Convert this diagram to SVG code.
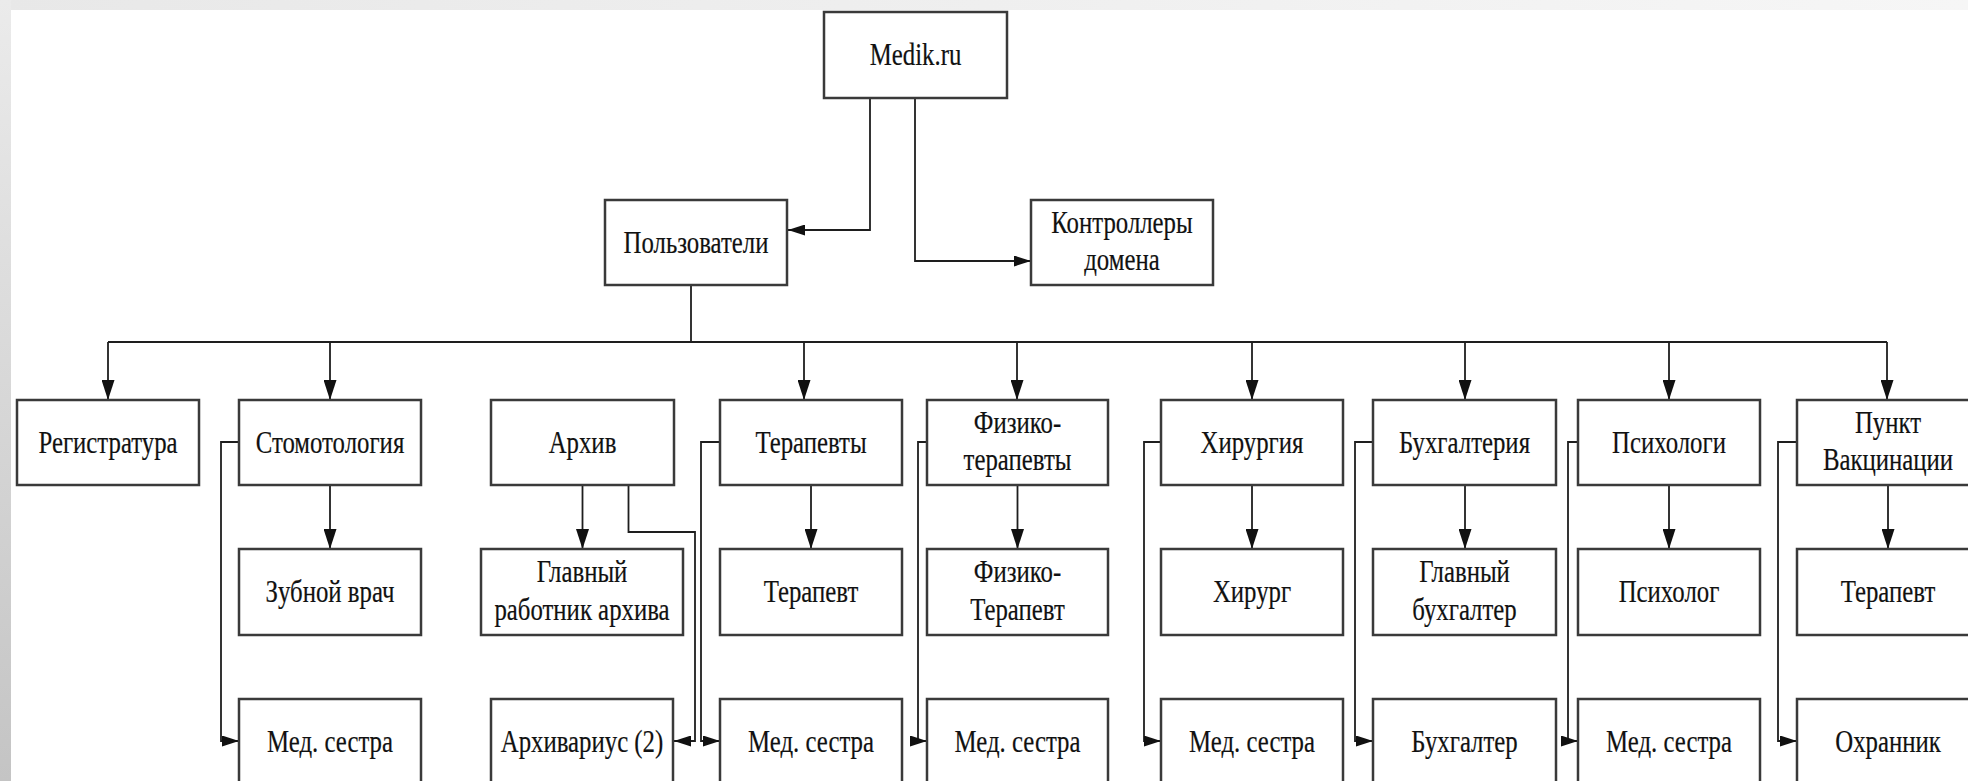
<svg xmlns="http://www.w3.org/2000/svg" width="1968" height="781" viewBox="0 0 1968 781">
<defs>
<linearGradient id="lg" x1="0" y1="0" x2="0" y2="1">
<stop offset="0" stop-color="#ebebeb"/>
<stop offset="1" stop-color="#c4c4c4"/>
</linearGradient>
<linearGradient id="tg" x1="0" y1="0" x2="1" y2="0">
<stop offset="0" stop-color="#e8e8e8"/>
<stop offset="1" stop-color="#f6f6f6"/>
</linearGradient>
<marker id="ah" viewBox="0 0 17 11" refX="17" refY="5.5" markerWidth="17" markerHeight="11" markerUnits="userSpaceOnUse" orient="auto">
<path d="M0,0 L17,5.5 L0,11 z" fill="#111"/>
</marker>
<marker id="av" viewBox="0 0 20 13" refX="20" refY="6.5" markerWidth="20" markerHeight="13" markerUnits="userSpaceOnUse" orient="auto">
<path d="M0,0 L20,6.5 L0,13 z" fill="#111"/>
</marker>
<style>
.b{fill:#fff;stroke:#3a3a3a;stroke-width:2.5}
.t{font-family:'Liberation Serif','Times New Roman',serif;font-size:31px;fill:#111;stroke:#111;stroke-width:0.2;text-anchor:middle}
.c{fill:none;stroke:#1e1e1e;stroke-width:1.8}
.a{marker-end:url(#ah)}
.v{marker-end:url(#av)}
</style>
</defs>
<rect x="0" y="0" width="1968" height="781" fill="#fff"/>
<rect x="0" y="0" width="1968" height="10" fill="url(#tg)"/>
<rect x="0" y="0" width="11" height="781" fill="url(#lg)"/>

<g id="connectors">
<path class="c a" d="M870,98 V230 H788"/>
<path class="c a" d="M915,98 V261 H1031"/>
<path class="c" d="M691,285 V342"/>
<path class="c" d="M108,342 H1887"/>
<path class="c v" d="M108,342 V400"/>
<path class="c v" d="M330,342 V400"/>
<path class="c v" d="M804,342 V400"/>
<path class="c v" d="M1017,342 V400"/>
<path class="c v" d="M1252,342 V400"/>
<path class="c v" d="M1465,342 V400"/>
<path class="c v" d="M1669,342 V400"/>
<path class="c v" d="M1887,342 V400"/>
<path class="c v" d="M330,485 V549"/>
<path class="c v" d="M582.5,485 V549"/>
<path class="c v" d="M811,485 V549"/>
<path class="c v" d="M1017.5,485 V549"/>
<path class="c v" d="M1252,485 V549"/>
<path class="c v" d="M1465,485 V549"/>
<path class="c v" d="M1669,485 V549"/>
<path class="c v" d="M1888,485 V549"/>
<path class="c a" d="M239,442 H221 V741 H239"/>
<path class="c a" d="M628.5,485 V532 H695 V741 H674"/>
<path class="c a" d="M720,442 H701 V741 H720"/>
<path class="c a" d="M927,442 H918 V741 H927"/>
<path class="c a" d="M1161,442 H1144 V741 H1161"/>
<path class="c a" d="M1373,442 H1355 V741 H1373"/>
<path class="c a" d="M1578,442 H1568 V741 H1578"/>
<path class="c a" d="M1797,442 H1778 V741 H1797"/>
</g>

<g id="n-medik"><rect class="b" x="824" y="12" width="183" height="86"/><text class="t" transform="translate(915.5,65) scale(0.8,1)">Medik.ru</text></g>
<g id="n-users"><rect class="b" x="605" y="200" width="182" height="85"/><text class="t" transform="translate(696,252.5) scale(0.8,1)">Пользователи</text></g>
<g id="n-dc"><rect class="b" x="1031" y="200" width="182" height="85"/><text class="t" transform="translate(1122,232.5) scale(0.8,1)"><tspan x="0" y="0">Контроллеры</tspan><tspan x="0" y="38">домена</tspan></text></g>

<g id="n-reg"><rect class="b" x="17" y="400" width="182" height="85"/><text class="t" transform="translate(108,452.5) scale(0.8,1)">Регистратура</text></g>
<g id="n-stom"><rect class="b" x="239" y="400" width="182" height="85"/><text class="t" transform="translate(330,452.5) scale(0.8,1)">Стомотология</text></g>
<g id="n-arch"><rect class="b" x="491" y="400" width="183" height="85"/><text class="t" transform="translate(582.5,452.5) scale(0.8,1)">Архив</text></g>
<g id="n-ter"><rect class="b" x="720" y="400" width="182" height="85"/><text class="t" transform="translate(811,452.5) scale(0.8,1)">Терапевты</text></g>
<g id="n-phys"><rect class="b" x="927" y="400" width="181" height="85"/><text class="t" transform="translate(1017.5,432.5) scale(0.8,1)"><tspan x="0" y="0">Физико-</tspan><tspan x="0" y="38">терапевты</tspan></text></g>
<g id="n-surg"><rect class="b" x="1161" y="400" width="182" height="85"/><text class="t" transform="translate(1252,452.5) scale(0.8,1)">Хирургия</text></g>
<g id="n-acc"><rect class="b" x="1373" y="400" width="183" height="85"/><text class="t" transform="translate(1464.5,452.5) scale(0.8,1)">Бухгалтерия</text></g>
<g id="n-psy"><rect class="b" x="1578" y="400" width="182" height="85"/><text class="t" transform="translate(1669,452.5) scale(0.8,1)">Психологи</text></g>
<g id="n-vac"><rect class="b" x="1797" y="400" width="182" height="85"/><text class="t" transform="translate(1888,432.5) scale(0.8,1)"><tspan x="0" y="0">Пункт</tspan><tspan x="0" y="38">Вакцинации</tspan></text></g>

<g id="n-dent"><rect class="b" x="239" y="549" width="182" height="86"/><text class="t" transform="translate(330,602) scale(0.8,1)">Зубной врач</text></g>
<g id="n-archhead"><rect class="b" x="481" y="549" width="202" height="86"/><text class="t" transform="translate(582,582) scale(0.8,1)"><tspan x="0" y="0">Главный</tspan><tspan x="0" y="38">работник архива</tspan></text></g>
<g id="n-ter1"><rect class="b" x="720" y="549" width="182" height="86"/><text class="t" transform="translate(811,602) scale(0.8,1)">Терапевт</text></g>
<g id="n-phys1"><rect class="b" x="927" y="549" width="181" height="86"/><text class="t" transform="translate(1017.5,582) scale(0.8,1)"><tspan x="0" y="0">Физико-</tspan><tspan x="0" y="38">Терапевт</tspan></text></g>
<g id="n-surg1"><rect class="b" x="1161" y="549" width="182" height="86"/><text class="t" transform="translate(1252,602) scale(0.8,1)">Хирург</text></g>
<g id="n-acchead"><rect class="b" x="1373" y="549" width="183" height="86"/><text class="t" transform="translate(1464.5,582) scale(0.8,1)"><tspan x="0" y="0">Главный</tspan><tspan x="0" y="38">бухгалтер</tspan></text></g>
<g id="n-psy1"><rect class="b" x="1578" y="549" width="182" height="86"/><text class="t" transform="translate(1669,602) scale(0.8,1)">Психолог</text></g>
<g id="n-vac1"><rect class="b" x="1797" y="549" width="182" height="86"/><text class="t" transform="translate(1888,602) scale(0.8,1)">Терапевт</text></g>

<g id="n-nurse1"><rect class="b" x="239" y="699" width="182" height="86"/><text class="t" transform="translate(330,751.5) scale(0.8,1)">Мед. сестра</text></g>
<g id="n-archivist"><rect class="b" x="491" y="699" width="182" height="86"/><text class="t" transform="translate(582,751.5) scale(0.8,1)">Архивариус (2)</text></g>
<g id="n-nurse2"><rect class="b" x="720" y="699" width="182" height="86"/><text class="t" transform="translate(811,751.5) scale(0.8,1)">Мед. сестра</text></g>
<g id="n-nurse3"><rect class="b" x="927" y="699" width="181" height="86"/><text class="t" transform="translate(1017.5,751.5) scale(0.8,1)">Мед. сестра</text></g>
<g id="n-nurse4"><rect class="b" x="1161" y="699" width="182" height="86"/><text class="t" transform="translate(1252,751.5) scale(0.8,1)">Мед. сестра</text></g>
<g id="n-accountant"><rect class="b" x="1373" y="699" width="183" height="86"/><text class="t" transform="translate(1464.5,751.5) scale(0.8,1)">Бухгалтер</text></g>
<g id="n-nurse5"><rect class="b" x="1578" y="699" width="182" height="86"/><text class="t" transform="translate(1669,751.5) scale(0.8,1)">Мед. сестра</text></g>
<g id="n-guard"><rect class="b" x="1797" y="699" width="182" height="86"/><text class="t" transform="translate(1888,751.5) scale(0.8,1)">Охранник</text></g>
</svg>
